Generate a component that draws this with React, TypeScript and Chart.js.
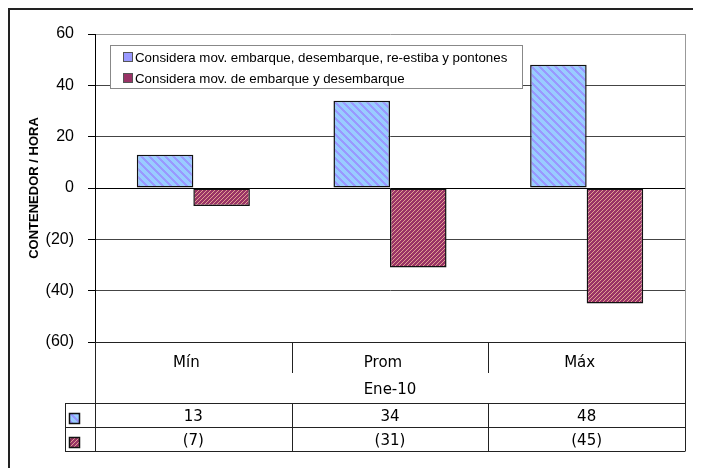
import React, { useEffect, useRef } from 'react';
import { Chart, registerables } from 'chart.js';

Chart.register(...registerables);

const categories = ['Mín', 'Prom', 'Máx'];
const periodLabel = 'Ene-10';
const seriesNames = [
  'Considera mov. embarque, desembarque, re-estiba y pontones',
  'Considera mov. de embarque y desembarque',
];
const seriesA = [13, 34, 48];
const seriesB = [-7, -31, -45];
const yMin = -60;
const yMax = 60;
const yStep = 20;
const yTitle = 'CONTENEDOR / HORA';

const fmt = (v: number) => (v < 0 ? `(${-v})` : `${v}`);

function makePattern(base: string, stripe: string, size: number, width: number, dir: 'back' | 'fwd') {
  const c = document.createElement('canvas');
  c.width = size;
  c.height = size;
  const g = c.getContext('2d')!;
  g.fillStyle = base;
  g.fillRect(0, 0, size, size);
  g.fillStyle = stripe;
  for (let y = 0; y < size; y++) {
    for (let x = 0; x < size; x++) {
      const k = dir === 'back' ? (((x - y) % size) + size) % size : (x + y) % size;
      if (k < width) g.fillRect(x, y, 1, 1);
    }
  }
  return g.createPattern(c, 'repeat')!;
}

const px = (v: number) => Math.round(v) + 0.5;

export default function App() {
  const ref = useRef<HTMLCanvasElement | null>(null);

  useEffect(() => {
    document.body.style.overflow = 'hidden';
    document.documentElement.style.overflow = 'hidden';
    const canvas = ref.current!;
    const patA = makePattern('#99CCFF', '#9999FF', 8, 3, 'back');
    const patB = makePattern('#993366', '#E0A090', 4, 1, 'fwd');
    const keyColors = ['#9999FF', '#993366'];
    const series = [seriesA, seriesB];
    const pats = [patA, patB];

    const plugin = {
      id: 'excelExtras',
      afterDatasetsDraw(chart: any) {
        const ctx = chart.ctx as CanvasRenderingContext2D;
        const ca = chart.chartArea;
        // legend box
        const bx = ca.left + 15;
        const by = ca.top + 11;
        const bw = 412;
        const bh = 43;
        ctx.save();
        ctx.fillStyle = '#fff';
        ctx.fillRect(bx, by, bw, bh);
        ctx.strokeStyle = '#888';
        ctx.lineWidth = 1;
        ctx.strokeRect(bx + 0.5, by + 0.5, bw, bh);
        ctx.font = "13.3px 'Liberation Sans', Arial, sans-serif";
        ctx.textBaseline = 'middle';
        ctx.textAlign = 'left';
        chart.data.datasets.forEach((ds: any, i: number) => {
          const cy = by + 12 + i * 21;
          ctx.fillStyle = keyColors[i];
          ctx.fillRect(bx + 13, cy - 5, 10, 10);
          ctx.strokeStyle = '#555';
          ctx.strokeRect(bx + 13.5, cy - 4.5, 9, 9);
          ctx.fillStyle = '#000';
          ctx.fillText(ds.label, bx + 25, cy + 1);
        });
        ctx.restore();
      },
      afterDraw(chart: any) {
        const ctx = chart.ctx as CanvasRenderingContext2D;
        const ca = chart.chartArea;
        const xs = chart.scales.x;
        const half = (xs.getPixelForValue(1) - xs.getPixelForValue(0)) / 2;
        const bottom = ca.bottom;
        const tableTop = bottom + 61.5;
        const rowH = 24;
        const tableBottom = tableTop + rowH * 2;
        const tableLeft = ca.left - 30;
        ctx.save();
        // plot right border (gray)
        ctx.lineWidth = 1;
        ctx.strokeStyle = '#999';
        ctx.beginPath();
        ctx.moveTo(px(ca.right), ca.top);
        ctx.lineTo(px(ca.right), bottom);
        ctx.stroke();
        // dark lines
        ctx.strokeStyle = '#222';
        ctx.beginPath();
        ctx.moveTo(px(ca.left), bottom);
        ctx.lineTo(px(ca.left), tableBottom);
        ctx.moveTo(px(ca.right), bottom);
        ctx.lineTo(px(ca.right), tableBottom);
        ctx.moveTo(ca.left, px(bottom));
        ctx.lineTo(ca.right, px(bottom));
        for (let i = 1; i < categories.length; i++) {
          const x = px(xs.getPixelForValue(i) - half);
          ctx.moveTo(x, bottom);
          ctx.lineTo(x, bottom + 31);
          ctx.moveTo(x, tableTop);
          ctx.lineTo(x, tableBottom);
        }
        for (let r = 0; r <= 2; r++) {
          const y = Math.floor(tableTop + r * rowH) + 0.5;
          ctx.moveTo(tableLeft, y);
          ctx.lineTo(ca.right, y);
        }
        ctx.moveTo(px(tableLeft), tableTop);
        ctx.lineTo(px(tableLeft), tableBottom);
        ctx.stroke();

        // category labels
        ctx.fillStyle = '#000';
        ctx.font = "15px 'DejaVu Sans', sans-serif";
        ctx.textAlign = 'center';
        ctx.textBaseline = 'middle';
        categories.forEach((c, i) => {
          ctx.fillText(c, xs.getPixelForValue(i) - 7, bottom + 21);
        });
        ctx.fillText(periodLabel, (ca.left + ca.right) / 2, bottom + 48);

        // table values + keys
        series.forEach((vals, r) => {
          const rt = Math.floor(tableTop + r * rowH);
          vals.forEach((v, i) => {
            ctx.fillStyle = '#000';
            ctx.fillText(fmt(v), xs.getPixelForValue(i), rt + 14);
          });
          ctx.fillStyle = pats[r];
          ctx.fillRect(tableLeft + 4, rt + 10, 11, 11);
          ctx.strokeStyle = '#111';
          ctx.lineWidth = 1.5;
          ctx.strokeRect(tableLeft + 4.5, rt + 10.5, 10, 10);
          ctx.lineWidth = 1;
        });

        // outer frame
        ctx.strokeStyle = '#222';
        ctx.lineWidth = 2;
        ctx.strokeRect(1, 1, chart.width + 20, chart.height + 20);
        ctx.restore();
      },
    };

    const chart = new Chart(canvas, {
      type: 'bar',
      data: {
        labels: categories,
        datasets: [
          {
            label: seriesNames[0],
            data: seriesA,
            backgroundColor: patA as any,
            borderColor: '#111',
            borderWidth: 1.5,
            borderSkipped: false,
            categoryPercentage: 0.575,
            barPercentage: 1,
          },
          {
            label: seriesNames[1],
            data: seriesB,
            backgroundColor: patB as any,
            borderColor: '#111',
            borderWidth: 1.5,
            borderSkipped: false,
            categoryPercentage: 0.575,
            barPercentage: 1,
          },
        ],
      },
      options: {
        animation: false,
        responsive: false,
        devicePixelRatio: 1,
        layout: { padding: { left: 19, top: 26, right: 16, bottom: 126 } },
        plugins: {
          legend: { display: false },
          tooltip: { enabled: false },
        },
        scales: {
          x: { display: false },
          y: {
            min: yMin,
            max: yMax,
            afterFit: (s: any) => {
              s.width = 68;
            },
            ticks: {
              stepSize: yStep,
              padding: 14,
              color: '#000',
              font: { family: "'Liberation Sans', Arial, sans-serif", size: 16 },
              callback: (v: any) => fmt(Number(v)),
            },
            grid: {
              drawTicks: true,
              tickLength: 7,
              tickColor: '#000',
              color: (c: any) => {
                const v = c.tick?.value;
                if (v === 0 || v === yMin) return '#000';
                if (v === yMax) return '#999';
                return '#444';
              },
            },
            border: { display: true, color: '#000', width: 1 },
            title: {
              display: true,
              text: yTitle,
              color: '#000',
              padding: 0,
              font: { family: "'Liberation Sans', Arial, sans-serif", size: 13, weight: 'bold' },
            },
          },
        },
      },
      plugins: [plugin],
    });
    return () => chart.destroy();
  }, []);

  return <canvas ref={ref} width={693} height={460} style={{ display: 'block', width: 693, height: 460 }} />;
}
